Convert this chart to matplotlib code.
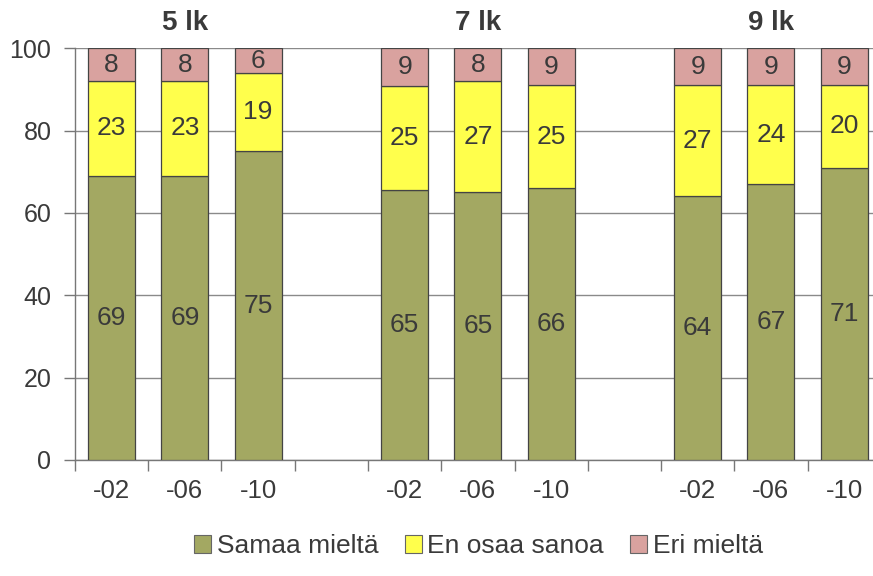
import matplotlib
matplotlib.use("Agg")
import matplotlib.pyplot as plt
from matplotlib.patches import Patch
import numpy as np

plt.rcParams['font.family'] = ['Liberation Sans', 'DejaVu Sans']

groups = ["5 lk", "7 lk", "9 lk"]
years = ["-02", "-06", "-10"]
samaa = [69, 69, 75, 65, 65, 66, 64, 67, 71]
en_osaa = [23, 23, 19, 25, 27, 25, 27, 24, 20]
eri = [8, 8, 6, 9, 8, 9, 9, 9, 9]
series_names = ["Samaa mieltä", "En osaa sanoa", "Eri mieltä"]
colors = ["#a3a862", "#ffff4c", "#d9a29f"]
txt = "#3a3a3a"

# positions: 3 bars, one gap, 3 bars, one gap, 3 bars
pos = []
for g in range(3):
    for b in range(3):
        pos.append(g * 4 + b)
pos = np.array(pos)

data = np.array([samaa, en_osaa, eri], dtype=float)
totals = data.sum(axis=0)
heights = data / totals * 100.0  # rounded percentages rescaled to fill 100 %

fig = plt.figure(figsize=(8.73, 5.76), dpi=100)
ax = fig.add_axes([0.0859, 0.2014, 0.923, 0.715])

w = 0.64
bottom = np.zeros(len(pos))
for labels, vals, col in zip(data, heights, colors):
    ax.bar(pos, vals, w, bottom=bottom, color=col, edgecolor="#444444",
           linewidth=0.9, zorder=3)
    for x, b, v, lab in zip(pos, bottom, vals, labels):
        ax.text(x, b + v / 2, str(int(lab)), ha="center", va="center",
                fontsize=19, color=txt, zorder=4)
    bottom = bottom + vals

ax.set_xlim(-0.5, 10.5)
ax.set_ylim(0, 100)
ax.set_yticks([0, 20, 40, 60, 80, 100])
ax.yaxis.grid(True, color="#8a8a8a", linewidth=1.0, zorder=0)
ax.set_xticks(pos)
ax.set_xticklabels(years * 3)
ax.set_xticks(np.arange(-0.5, 10.6, 1), minor=True)
ax.tick_params(axis="x", which="major", length=0, pad=14, labelsize=18.5, labelcolor=txt)
ax.tick_params(axis="x", which="minor", length=8, width=1, color="#777777", direction="out")
ax.tick_params(axis="y", length=8, width=1, color="#777777", labelsize=18, labelcolor=txt, pad=9)
for s in ["top", "right"]:
    ax.spines[s].set_visible(False)
for s in ["left", "bottom"]:
    ax.spines[s].set_color("#777777")
    ax.spines[s].set_linewidth(1.0)
ax.set_axisbelow(True)

for g, name in enumerate(groups):
    ax.text(g * 4 + 1, 103, name, ha="center", va="bottom", fontsize=20,
            fontweight="bold", color=txt, transform=ax.transData)

handles = [Patch(facecolor=c, edgecolor="#666666", linewidth=0.8) for c in colors]
fig.legend(handles, series_names, loc="center", bbox_to_anchor=(0.548, 0.052),
           ncol=3, frameon=False, fontsize=19, handlelength=0.65, handleheight=0.65,
           handletextpad=0.2, columnspacing=1.0, labelcolor=txt)

fig.savefig("out.png", dpi=100)
